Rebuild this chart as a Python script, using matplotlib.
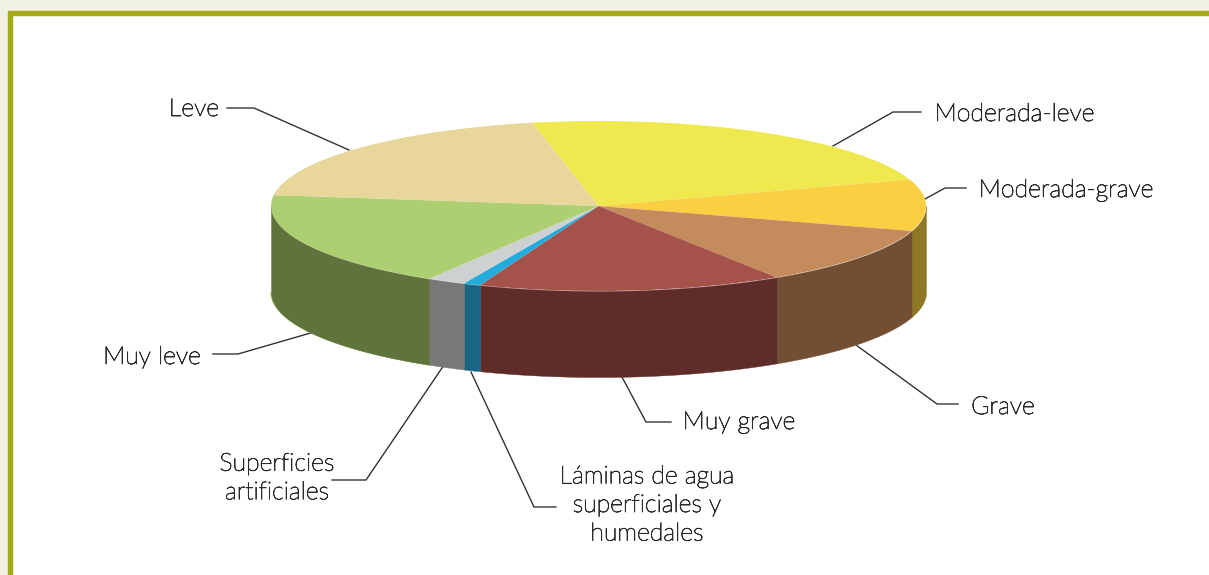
import numpy as np
import matplotlib
matplotlib.use("Agg")
import matplotlib.pyplot as plt
import matplotlib.patheffects as pe
from matplotlib.patches import Rectangle

# Land degradation classes and their shares of the territory (%)
categories = ["Moderada-leve", "Moderada-grave", "Grave", "Muy grave",
              "Láminas de agua\nsuperficiales y\nhumedales",
              "Superficies\nartificiales", "Muy leve", "Leve"]
shares = [23.2, 9.8, 11.1, 15.05, 0.85, 1.9, 18.4, 19.7]

top_colors = ["#EFE94F", "#FBCF42", "#C48B5C", "#A5524A",
              "#22ACDC", "#CDD1D1", "#ADCF71", "#E8D69A"]
wall_colors = ["#8E7725", "#8E7725", "#724F33", "#5F2C29",
               "#1B6584", "#787878", "#60733C", "#60733C"]

W, H = 1209, 575
CX, CY, RX, RY, DEPTH = 598.5, 206.0, 327.5, 85.0, 86.0
START_ANGLE = 101.7
INK = "#2B2A29"

plt.rcParams["font.family"] = ["Lato", "DejaVu Sans"]
fig = plt.figure(figsize=(W / 100, H / 100), dpi=100, facecolor="#F1F1E3")

# Page frame and annotations are laid out in pixel units, y pointing down
page = fig.add_axes([0, 0, 1, 1])
page.set_xlim(0, W)
page.set_ylim(H, 0)
page.axis("off")
page.add_patch(Rectangle((9.5, 12.5), W, H, fc="white", ec="#A5AB14", lw=3.9))

# Unit circle of the pie axes stretches into the tilted disc ellipse
disc = fig.add_axes([(CX - RX) / W, (H - CY - RY) / H, 2 * RX / W, 2 * RY / H])
disc.patch.set_alpha(0)
wedges, _ = disc.pie(shares, colors=top_colors, startangle=START_ANGLE,
                     counterclock=False, radius=1.0,
                     wedgeprops={"linewidth": 0, "clip_on": False, "zorder": 5})
disc.set_aspect("auto")
disc.set_xlim(-1, 1)
disc.set_ylim(-1, 1)

# Side wall: only the part of each slice on the near half of the rim is visible
drop = 2 * DEPTH / (2 * RY)
for wedge, color, top in zip(wedges, wall_colors, top_colors):
    lo, hi = wedge.theta1 % 360, wedge.theta2 % 360
    if hi <= lo:
        hi += 360
    for a, b in [(lo, hi), (lo + 360, hi + 360), (lo - 360, hi - 360)]:
        a, b = max(a, 180), min(b, 360)
        if b > a:
            t = np.radians(np.linspace(a, b, 120))
            disc.fill_between(np.cos(t), np.sin(t), np.sin(t) - drop, color=color,
                              lw=0.3, clip_on=False, zorder=2)
            # The base of the light green slice shows as a fine rim under the wall
            if top == "#ADCF71":
                disc.plot(np.cos(t), np.sin(t) - drop, color=top, lw=1.0,
                          solid_capstyle="butt", clip_on=False, zorder=1)

# Leader lines and labels, in page pixels
leaders = [
    ([921, 893, 833], [112, 112, 146]),
    ([966, 945, 925], [188, 188, 199]),
    ([958, 937, 856], [404, 404, 345]),
    ([671, 646, 622], [422, 422, 377]),
    ([556, 534, 471], [507, 507, 372]),
    ([332, 366, 444], [480, 480, 365]),
    ([213, 238, 314], [354, 354, 332]),
    ([227, 254, 349], [108, 108, 150]),
]
label_spots = [
    (1014.5, 114, "center"), (1066, 190, "center"), (1003, 407, "center"),
    (739, 422, "center"), (647, 505, "center"), (277, 478, "center"),
    (152, 357, "center"), (194, 109, "center"),
]
for (xs, ys), (x, y, ha), label in zip(leaders, label_spots, categories):
    page.plot(xs, ys, color=INK, lw=0.95, solid_joinstyle="miter", zorder=6)
    page.text(x, y, label, ha=ha, va="center", fontsize=17.9, color=INK,
              fontweight="light", linespacing=1.24, zorder=7,
              path_effects=[pe.withStroke(linewidth=0.55, foreground=INK)])

fig.savefig("out.png", dpi=100, facecolor=fig.get_facecolor())
